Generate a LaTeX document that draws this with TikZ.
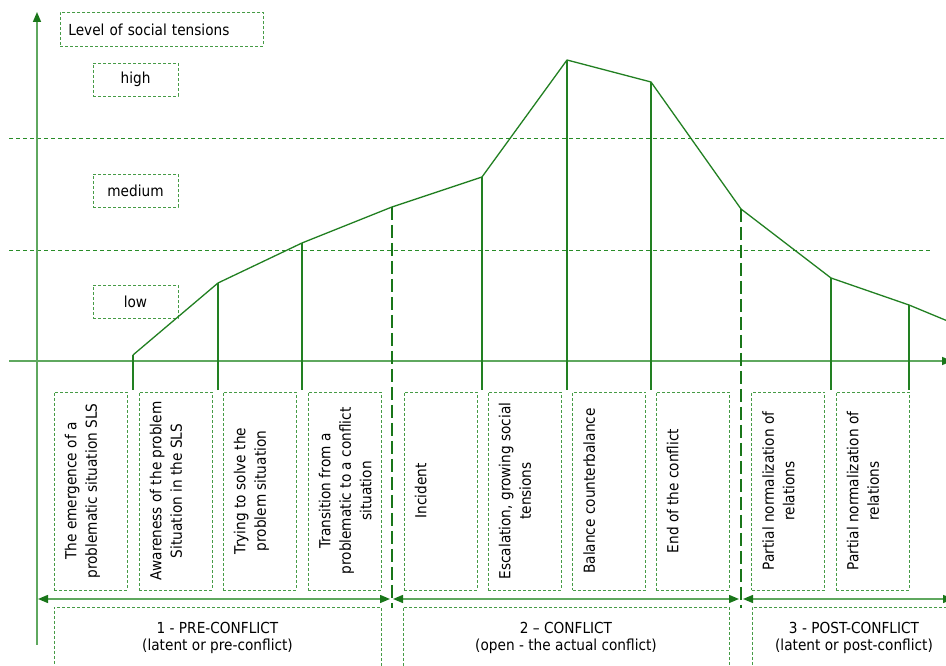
\documentclass[tikz,border=0pt]{standalone}
\usepackage{fontspec}
\setmainfont{DejaVu Sans}[FakeStretch=0.9]
\usepackage{tikz}
\usetikzlibrary{arrows.meta}
\definecolor{curvegreen}{RGB}{34,128,34}
\definecolor{boxgreen}{RGB}{70,155,70}
\definecolor{levelgreen}{RGB}{40,140,40}
\definecolor{axisgreen}{RGB}{95,168,95}
\definecolor{tipgreen}{RGB}{25,118,25}
\tikzset{
  levelbox/.style={draw=boxgreen,dash pattern=on 3pt off 2pt,line width=0.8pt,
    minimum width=85pt,minimum height=33pt,inner sep=0pt},
  stagebox/.style={draw=boxgreen,dash pattern=on 3pt off 2pt,line width=0.8pt,
    minimum width=73pt,minimum height=198pt,inner sep=0pt},
  stagetext/.style={rotate=90,anchor=north,align=center,inner sep=3pt,
    font=\fontsize{15.2}{20.5}\selectfont},
  phasebox/.style={draw=boxgreen,dash pattern=on 3pt off 2pt,line width=0.8pt,
    minimum height=62pt,inner sep=0pt,align=center},
  tip/.style={Triangle[length=10pt,width=8pt,color=tipgreen]},
  axisline/.style={draw=axisgreen,line width=1.6pt,-{Triangle[length=10pt,width=8pt,color=tipgreen]}},
  span/.style={draw=axisgreen,line width=1.4pt,
    {Triangle[length=10pt,width=8pt,color=tipgreen]}-{Triangle[length=10pt,width=8pt,color=tipgreen]}},
  levelline/.style={draw=levelgreen,line width=0.9pt,dash pattern=on 4pt off 3pt},
  phasecut/.style={draw=tipgreen,line width=1.6pt,dash pattern=on 13pt off 5pt},
  drop/.style={draw=curvegreen,line width=1.3pt},
}
\begin{document}
\begin{tikzpicture}[scale=1.000000,x=1pt,y=1pt,font=\fontsize{15.2}{17.5}\selectfont]
\useasboundingbox[fill=white] (0.000000,0.000000) rectangle (946.000000,666.000000);
% Drawing axes
\coordinate (origin) at (37.000000,305.000000);
\coordinate (ytop) at (37.000000,654.000000);
\coordinate (ybot) at (37.000000,21.000000);
\coordinate (xleft) at (9.000000,305.000000);
\coordinate (xright) at (952.000000,305.000000);
\draw[levelline] (9.000000,528.000000) -- (946.000000,528.000000);
\draw[levelline] (9.000000,416.000000) -- (930.000000,416.000000);
\draw[axisline] (ybot) -- (ytop);
\draw[axisline] (xleft) -- (xright);
% Done with axes; drawing level boxes
\node[levelbox,anchor=north west,minimum width=203pt,minimum height=34pt,
  text width=187pt,inner xsep=8pt,align=left] (title) at (60.000000,654.000000) {Level of social tensions};
\node[levelbox] (high) at (135.500000,586.500000) {high};
\node[levelbox] (medium) at (135.500000,475.000000) {medium};
\node[levelbox] (low) at (135.500000,364.000000) {low};
% Drawing curve
\coordinate (p0) at (133.000000,311.000000);
\coordinate (p1) at (218.000000,383.000000);
\coordinate (p2) at (302.000000,423.000000);
\coordinate (p3) at (392.000000,459.000000);
\coordinate (p4) at (482.000000,489.000000);
\coordinate (p5) at (567.000000,606.000000);
\coordinate (p6) at (651.000000,584.000000);
\coordinate (p7) at (741.000000,457.000000);
\coordinate (p8) at (831.000000,388.000000);
\coordinate (p9) at (909.000000,361.000000);
\coordinate (p10) at (950.000000,344.000000);
\draw[curvegreen,line width=1.3pt,line join=round] (p0) -- (p1) -- (p2) -- (p3) -- (p4) -- (p5)
  -- (p6) -- (p7) -- (p8) -- (p9) -- (p10);
% Drops from the curve
\foreach \p in {p0,p1,p2,p4,p5,p6,p8,p9}
  \draw[drop] (\p) -- (\p |- 0,276);
\draw[phasecut] (p3) -- (p3 |- 0,58);
\draw[phasecut] (p7) -- (p7 |- 0,58);
% Done with curve; drawing stages
% Phase 1: pre-conflict
\node[stagebox] (s1) at (90.500000,175.000000) {};
\node[stagebox] (s2) at (175.500000,175.000000) {};
\node[stagebox] (s3) at (259.500000,175.000000) {};
\node[stagebox] (s4) at (344.500000,175.000000) {};
% Phase 2: conflict
\node[stagebox] (s5) at (440.500000,175.000000) {};
\node[stagebox] (s6) at (524.500000,175.000000) {};
\node[stagebox] (s7) at (609.000000,175.000000) {};
\node[stagebox] (s8) at (692.500000,175.000000) {};
% Phase 3: post-conflict
\node[stagebox] (s9) at (788.000000,175.000000) {};
\node[stagebox] (s10) at (872.500000,175.000000) {};
\node[stagetext] (t1) at ([xshift=8pt]s1.west) {The emergence of a\\problematic situation SLS};
\node[stagetext] (t2) at ([xshift=8pt]s2.west) {Awareness of the problem\\Situation in the SLS};
\node[stagetext] (t3) at ([xshift=8pt]s3.west) {Trying to solve the\\problem situation};
\node[stagetext] (t4) at ([xshift=8pt]s4.west) {Transition from a\\problematic to a conflict\\situation};
\node[stagetext] (t5) at ([xshift=8pt]s5.west) {Incident};
\node[stagetext] (t6) at ([xshift=8pt]s6.west) {Escalation, growing social\\tensions};
\node[stagetext] (t7) at ([xshift=8pt]s7.west) {Balance counterbalance};
\node[stagetext] (t8) at ([xshift=8pt]s8.west) {End of the conflict};
\node[stagetext] (t9) at ([xshift=8pt]s9.west) {Partial normalization of\\relations};
\node[stagetext] (t10) at ([xshift=8pt]s10.west) {Partial normalization of\\relations};
% Done with stages; drawing phase spans
\coordinate (a0) at (38.000000,67.000000);
\coordinate (a1) at (390.000000,67.000000);
\coordinate (a2) at (393.000000,67.000000);
\coordinate (a3) at (739.000000,67.000000);
\coordinate (a4) at (743.000000,67.000000);
\coordinate (a5) at (953.000000,67.000000);
\draw[span] (a1) -- (a0);
\draw[span] (a2) -- (a3);
\draw[span] (a4) -- (a5);
\node[phasebox,minimum width=327pt] (ph1) at (217.500000,28.000000) {1 - PRE-CONFLICT\\(latent or pre-conflict)};
\node[phasebox,minimum width=326pt] (ph2) at (566.000000,28.000000) {2 -- CONFLICT\\(open - the actual conflict)};
\node[phasebox,minimum width=204pt] (ph3) at (854.000000,28.000000) {3 - POST-CONFLICT\\(latent or post-conflict)};
% Done with phase spans
\end{tikzpicture}
\end{document}
